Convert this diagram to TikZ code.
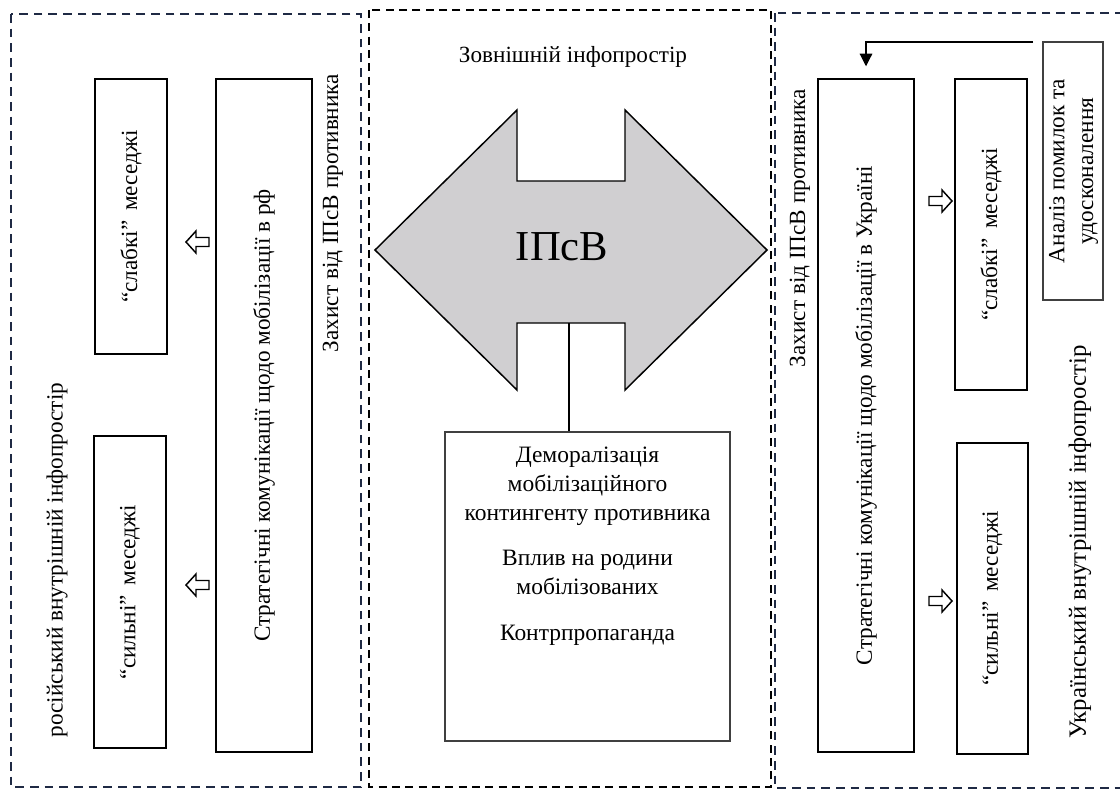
\documentclass[tikz,border=0pt]{standalone}
\usepackage{fontspec}
\setmainfont{Liberation Serif}
\usepackage{graphicx}
\usetikzlibrary{arrows.meta}
\definecolor{navy}{HTML}{1F2A44}
\definecolor{arrgray}{HTML}{D0CFD1}
\begin{document}
\begin{tikzpicture}[x=0.75pt,y=-0.75pt,
  font=\fontsize{17.4}{21.5}\selectfont,
  panelL/.style={draw=navy, line width=1.4pt, dash pattern=on 6.5pt off 4.5pt},
  panelC/.style={draw=black, line width=1.6pt, dash pattern=on 6pt off 4pt},
  box/.style={draw, line width=1.1pt, inner sep=0pt, align=center},
  thinbox/.style={draw=black!75, line width=0.8pt, inner sep=0pt, align=center},
  lbl/.style={inner sep=0pt, align=center},
  larrow/.pic={\draw[line width=1.1pt, fill=white] (0,0) -- (10,-11) -- (10,-4.5) -- (23,-4.5) -- (23,4.5) -- (10,4.5) -- (10,11) -- cycle;},
  rarrow/.pic={\draw[line width=1.1pt, fill=white] (0,0) -- (-10,-11) -- (-10,-4.5) -- (-23,-4.5) -- (-23,4.5) -- (-10,4.5) -- (-10,11) -- cycle;}
]
\useasboundingbox (0,0) rectangle (1120,790);

% panels
\draw[panelL] (11,14) rectangle (361,787);
\draw[panelC] (369,10) rectangle (771,787);
\draw[panelL] (775,13) rectangle (1135,788);

% left panel
\node[box, minimum width=54pt, minimum height=206.25pt] (slabL) at (131,216.5) {\rotatebox{90}{“слабкі”\, меседжі}};
\node[box, minimum width=72pt, minimum height=504.75pt] (stratL) at (264,415.5) {\rotatebox{90}{Стратегічні комунікації щодо мобілізації в рф}};
\node[box, minimum width=54pt, minimum height=234pt] (silL) at (130,592) {\rotatebox{90}{“сильні”\, меседжі}};
\pic at (186,242) {larrow};
\pic at (186,585) {larrow};
\node[lbl, rotate=90] (defL) at (333,213) {Захист від ІПсВ противника};
\node[lbl, rotate=90] (ruspace) at (57,560) {російський внутрішній інфопростір};

% center panel
\node[lbl] (ext) at (573,57) {Зовнішній інфопростір};
\draw[line width=1.1pt, fill=arrgray] (375,250) -- (517,110) -- (517,181) -- (625,181) -- (625,110) -- (767,250) -- (625,390) -- (625,323) -- (517,323) -- (517,390) -- cycle;
\node[lbl, font=\fontsize{32}{36}\selectfont] (ipsv) at (562,247) {ІПсВ};
\coordinate (shaftbot) at (569,323);
\node[thinbox, minimum width=213.75pt, minimum height=231.75pt] (cbox) at (587.5,586.5) {};
\node[lbl, anchor=north, font=\fontsize{17.6}{21.6}\selectfont] (ctext) at (587.5,447) {Деморалізація\\ мобілізаційного\\ контингенту противника\\[12.5pt] Вплив на родини\\ мобілізованих\\[12.5pt] Контрпропаганда};
\draw[line width=0.8pt] (shaftbot) -- (shaftbot |- cbox.north);

% right panel
\node[thinbox, minimum width=45pt, minimum height=193.5pt] (anal) at (1073,171) {\rotatebox{90}{\begin{tabular}{c}Аналіз помилок та\\ удосконалення\end{tabular}}};
\node[box, minimum width=72pt, minimum height=504.75pt] (sua) at (866,415.5) {\rotatebox{90}{Стратегічні комунікації щодо мобілізації в Україні}};
\node[box, minimum width=54pt, minimum height=233.25pt] (slabR) at (991,234.5) {\rotatebox{90}{“слабкі”\, меседжі}};
\node[box, minimum width=53.25pt, minimum height=233.25pt] (silR) at (992.5,598.5) {\rotatebox{90}{“сильні”\, меседжі}};
\pic at (952,201) {rarrow};
\pic at (952,601) {rarrow};
\node[lbl, rotate=90] (defR) at (800,228) {Захист від ІПсВ противника};
\node[lbl, rotate=90, font=\fontsize{18.6}{22}\selectfont] (uaspace) at (1080,542) {Український внутрішній інфопростір};
\coordinate (fb) at (1033,42);
\draw[line width=0.8pt, -{Triangle[length=9.5pt,width=9.5pt]}, shorten >=9pt] (fb) -| (sua.north);
\end{tikzpicture}
\end{document}
